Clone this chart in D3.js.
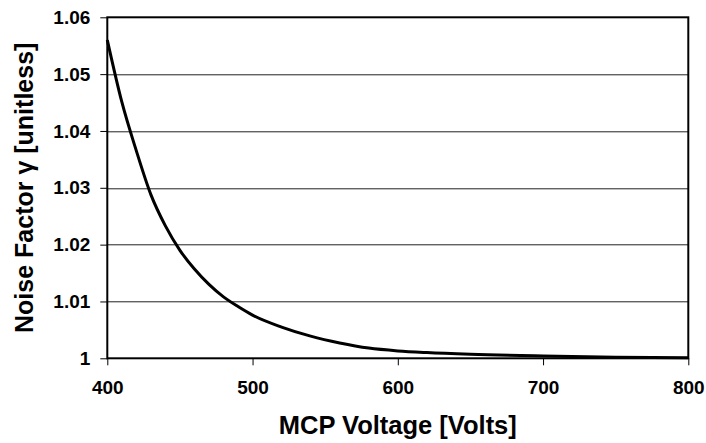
<!DOCTYPE html>
<style>
    body {
        margin: 0;
        font-family: 'Liberation Sans', Arial, sans-serif;
        background: #fff;
    }
    .axis .domain {
        display: none;
    }
</style>
<svg width="706" height="443"></svg>
<script src="https://d3js.org/d3.v7.min.js"></script>
<script>
    // curve
    var voltage = [400, 410, 420, 430, 440, 450, 460, 470, 480, 490, 500, 520, 540, 560, 580, 600, 620, 650, 700, 750, 800];
    var gamma = [1.0560, 1.0451, 1.0365, 1.0288, 1.0233, 1.0190, 1.0157, 1.0130, 1.0108, 1.0091, 1.0076, 1.0055,
        1.0039, 1.0027, 1.0018, 1.0013, 1.0010, 1.0007, 1.0004, 1.0002, 1.0001];
    var xTicks = [400, 500, 600, 700, 800];
    var yTicks = [1, 1.01, 1.02, 1.03, 1.04, 1.05, 1.06];

    var data = voltage.map(function(v, i) { return {v: v, g: gamma[i]}; });

    var svg = d3.select("svg"),
        margin = {top: 17.3, right: 17.7, bottom: 84.7, left: 107.3},
        width = +svg.attr("width") - margin.left - margin.right,
        height = +svg.attr("height") - margin.top - margin.bottom,
        g = svg.append("g").attr("transform", "translate(" + margin.left + "," + margin.top + ")");

    var x = d3.scaleLinear().domain([400, 800]).range([0, width]);
    var y = d3.scaleLinear().domain([1, 1.06]).range([height, 0]);

    // gridlines
    g.append("g")
        .selectAll("line")
        .data(yTicks.slice(1, -1))
        .enter().append("line")
        .attr("x1", 0)
        .attr("x2", width)
        .attr("y1", function(d) { return Math.round(y(d)) + 0.5; })
        .attr("y2", function(d) { return Math.round(y(d)) + 0.5; })
        .attr("stroke", "#222")
        .attr("stroke-width", 1);

    // y axis
    g.append("g")
        .attr("class", "axis")
        .call(d3.axisLeft(y).tickValues(yTicks).tickSize(7).tickPadding(10)
            .tickFormat(function(d) { return d === 1 ? "1" : d3.format(".2f")(d); }))
        .call(function(a) {
            a.selectAll(".tick line").attr("stroke", "#000");
            a.selectAll("text")
                .attr("font-family", "'Liberation Sans', Arial, sans-serif")
                .attr("font-size", 19)
                .attr("font-weight", "bold")
                .attr("fill", "#000");
        });

    // x axis
    g.append("g")
        .attr("class", "axis")
        .attr("transform", "translate(0," + height + ")")
        .call(d3.axisBottom(x).tickValues(xTicks).tickSize(7).tickPadding(15))
        .call(function(a) {
            a.selectAll(".tick line").attr("stroke", "#000");
            a.selectAll("text")
                .attr("font-family", "'Liberation Sans', Arial, sans-serif")
                .attr("font-size", 19)
                .attr("font-weight", "bold")
                .attr("fill", "#000");
        });

    // the curve
    g.append("path")
        .datum(data)
        .attr("fill", "none")
        .attr("stroke", "#000")
        .attr("stroke-width", 3)
        .attr("d", d3.line()
            .curve(d3.curveMonotoneX)
            .x(function(d) { return x(d.v); })
            .y(function(d) { return y(d.g); }));

    // plot frame
    g.append("rect")
        .attr("width", width)
        .attr("height", height)
        .attr("fill", "none")
        .attr("stroke", "#000")
        .attr("stroke-width", 2);

    // axis titles
    svg.append("text")
        .attr("x", margin.left + width / 2)
        .attr("y", 434)
        .attr("text-anchor", "middle")
        .attr("font-size", 25.5)
        .attr("font-weight", "bold")
        .text("MCP Voltage [Volts]");

    svg.append("text")
        .attr("transform", "translate(33," + (margin.top + height / 2) + ") rotate(-90)")
        .attr("text-anchor", "middle")
        .attr("font-size", 25)
        .attr("font-weight", "bold")
        .text("Noise Factor γ [unitless]");
</script>
